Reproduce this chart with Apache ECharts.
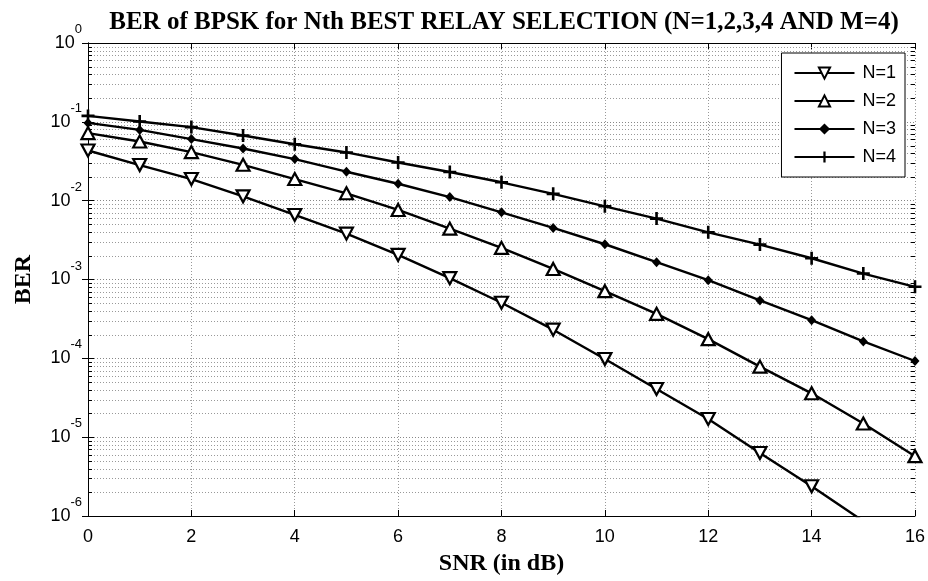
<!DOCTYPE html>
<html>
<head>
<meta charset="utf-8">
<script src="https://cdn.jsdelivr.net/npm/echarts@6/dist/echarts.min.js"></script>
<style>html,body{margin:0;padding:0;background:#fff;}#c{width:928px;height:581px;}</style>
</head>
<body>
<div id="c"></div>
<script>
const snr = [0,1,2,3,4,5,6,7,8,9,10,11,12,13,14,15,16];
const berN1 = [0.0433,0.0283,0.0188,0.01135,0.00659,0.00382,0.00205,0.00104,0.000507,0.000231,9.8e-5,4.09e-5,1.7e-5,6.3e-6,2.38e-6,8.6e-7,3.0e-7];
const berN2 = [0.072,0.0563,0.0413,0.0285,0.0188,0.0124,0.00762,0.00442,0.00252,0.00136,0.000711,0.000367,0.000175,7.85e-5,3.6e-5,1.49e-5,5.74e-6];
const berN3 = [0.097,0.079,0.0604,0.0459,0.0337,0.0233,0.0164,0.0111,0.00711,0.00451,0.0028,0.00166,0.00098,0.000542,0.000305,0.000164,9.25e-5];
const berN4 = [0.119,0.101,0.0857,0.067,0.052,0.0409,0.0305,0.0231,0.0171,0.0122,0.00848,0.00592,0.00397,0.00277,0.00186,0.00119,0.000808];
const seriesNames = ['N=1','N=2','N=3','N=4'];
const titleText = 'BER of BPSK for Nth BEST RELAY SELECTION (N=1,2,3,4 AND M=4)';
const xTitle = 'SNR (in dB)';
const yTitle = 'BER';
const minorMantissas = [2,3,4,5,6,7,8,9];
const decadeExps = [-6,-5,-4,-3,-2,-1];

const minorVals = [];
decadeExps.forEach(d => minorMantissas.forEach(m => minorVals.push(+(m * Math.pow(10, d)).toPrecision(3))));

const pair = arr => snr.map((x, i) => [x, arr[i]]);
const sansFont = '"Liberation Sans", Arial, sans-serif';
const serifFont = '"Liberation Serif", "Times New Roman", serif';

const chart = echarts.init(document.getElementById('c'), null, {renderer: 'canvas'});
const plusPath = 'path://M-1.2,-6 L1.2,-6 L1.2,6 L-1.2,6 Z M-6,-1.2 L6,-1.2 L6,1.2 L-6,1.2 Z';
const lineStyle = {color: '#000', width: 2.4};
const baseAxisLine = {show: true, lineStyle: {color: '#000', width: 1}};
const tickStyle = {show: true, inside: true, length: 6, lineStyle: {color: '#000'}};

function renderMinor(params, api) {
  const cs = params.coordSys;
  const y = Math.round(api.coord([0, api.value(1)])[1]) + 0.5;
  const x1 = cs.x, x2 = cs.x + cs.width;
  return {
    type: 'group', silent: true,
    children: [
      {type: 'line', shape: {x1: x1, y1: y, x2: x2, y2: y},
       style: {stroke: '#999', lineWidth: 1, lineDash: [1, 2]}},
      {type: 'line', shape: {x1: x1, y1: y, x2: x1 + 4, y2: y},
       style: {stroke: '#000', lineWidth: 1}},
      {type: 'line', shape: {x1: x2 - 4, y1: y, x2: x2, y2: y},
       style: {stroke: '#000', lineWidth: 1}}
    ]
  };
}

chart.setOption({
  animation: false,
  backgroundColor: '#fff',
  title: {
    text: titleText, left: 499, top: 5, textAlign: 'center',
    textStyle: {fontFamily: serifFont, fontWeight: 'bold', fontSize: 25, color: '#000'}
  },
  legend: {
    data: seriesNames,
    orient: 'vertical', right: 23, top: 53,
    itemWidth: 60, itemHeight: 14, itemGap: 10,
    padding: [11, 9, 11, 12],
    backgroundColor: '#fff', borderColor: '#000', borderWidth: 1, borderRadius: 0,
    textStyle: {fontFamily: sansFont, fontSize: 18, lineHeight: 18, color: '#000', padding: [0,0,0,3]}
  },
  grid: {left: 88, right: 13, top: 43, bottom: 64, containLabel: false},
  xAxis: [{
    type: 'value', min: 0, max: 16, interval: 2,
    name: xTitle, nameLocation: 'middle', nameGap: 36,
    nameTextStyle: {fontFamily: serifFont, fontWeight: 'bold', fontSize: 24, color: '#000'},
    axisLine: baseAxisLine,
    axisTick: tickStyle,
    axisLabel: {fontFamily: sansFont, fontSize: 18, color: '#000', margin: 12},
    splitLine: {show: true, lineStyle: {color: '#999', type: [1, 2], width: 1}}
  }, {
    type: 'value', min: 0, max: 16, interval: 2, position: 'top',
    axisLine: baseAxisLine,
    axisTick: tickStyle,
    axisLabel: {show: false}, splitLine: {show: false}
  }],
  yAxis: [{
    type: 'log', min: 1e-6, max: 1, logBase: 10,
    name: yTitle, nameLocation: 'middle', nameGap: 52,
    nameTextStyle: {fontFamily: serifFont, fontWeight: 'bold', fontSize: 24, color: '#000'},
    axisLine: baseAxisLine,
    axisTick: tickStyle,
    axisLabel: {
      margin: 6,
      formatter: v => '{b|10}{s|' + Math.round(Math.log10(v)) + '}',
      rich: {
        b: {fontFamily: sansFont, fontSize: 18, color: '#000', lineHeight: 18, verticalAlign: 'middle'},
        s: {fontFamily: sansFont, fontSize: 13, color: '#000', lineHeight: 13, padding: [0, 0, 27, 0], verticalAlign: 'middle'}
      }
    },
    splitLine: {show: true, lineStyle: {color: '#888', type: [1, 2], width: 1}}
  }, {
    type: 'log', min: 1e-6, max: 1, logBase: 10, position: 'right',
    axisLine: baseAxisLine,
    axisTick: tickStyle,
    axisLabel: {show: false}, splitLine: {show: false}
  }],
  series: [
    {
      name: 'grid-minor', type: 'custom', silent: true, z: 1,
      data: minorVals.map(v => [0, v]),
      renderItem: renderMinor,
      clip: false
    },
    {
      name: 'N=1', type: 'line', data: pair(berN1), z: 3,
      symbol: 'triangle', symbolRotate: 180, symbolSize: [13, 12],
      lineStyle: lineStyle,
      itemStyle: {color: '#fff', borderColor: '#000', borderWidth: 2.2}
    },
    {
      name: 'N=2', type: 'line', data: pair(berN2), z: 3,
      symbol: 'triangle', symbolSize: [13, 12],
      lineStyle: lineStyle,
      itemStyle: {color: '#fff', borderColor: '#000', borderWidth: 2.2}
    },
    {
      name: 'N=3', type: 'line', data: pair(berN3), z: 3,
      symbol: 'diamond', symbolSize: [9, 10],
      lineStyle: lineStyle,
      itemStyle: {color: '#000', borderColor: '#000', borderWidth: 0}
    },
    {
      name: 'N=4', type: 'line', data: pair(berN4), z: 3,
      symbol: plusPath, symbolSize: 13,
      lineStyle: lineStyle,
      itemStyle: {color: '#000', borderWidth: 0}
    }
  ]
});
</script>
</body>
</html>
